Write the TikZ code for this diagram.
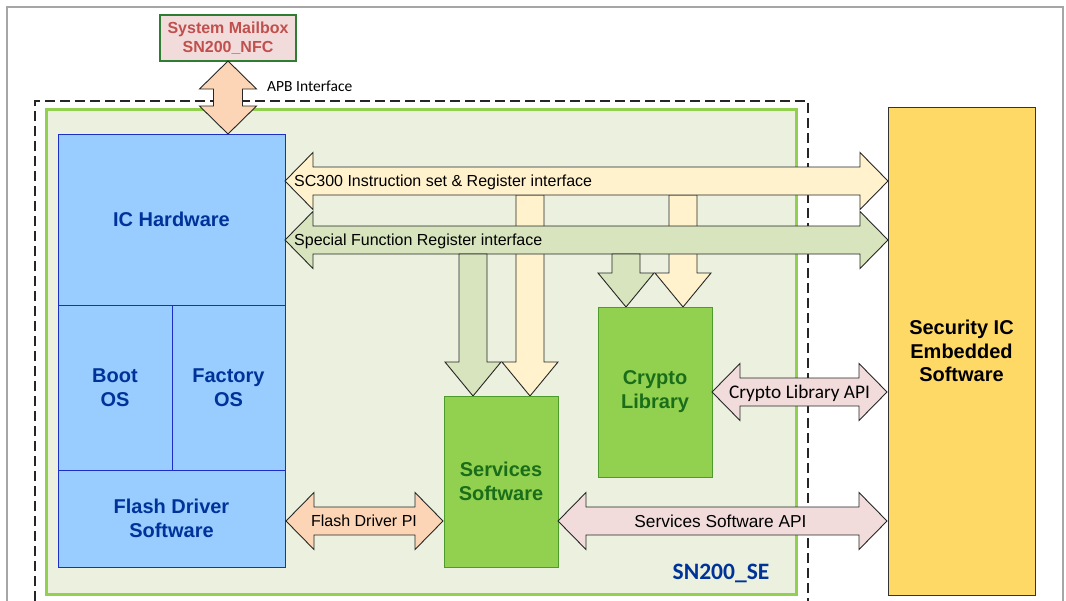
\documentclass[tikz,border=0pt]{standalone}
\usepackage{fontspec}
\setmainfont{Liberation Sans}
\newfontfamily\calibri{Carlito}
\definecolor{framegray}{HTML}{A6A6A6}
\definecolor{secgreen}{HTML}{92D050}
\definecolor{secbg}{HTML}{EBF1DE}
\definecolor{icblue}{HTML}{99CCFF}
\definecolor{icborder}{HTML}{1A2EC8}
\definecolor{ictext}{HTML}{003399}
\definecolor{mbfill}{HTML}{F2DCDB}
\definecolor{mbborder}{HTML}{2E7D32}
\definecolor{mbtext}{HTML}{C0504D}
\definecolor{peach}{HTML}{FBD5B5}
\definecolor{pink}{HTML}{F2DCDB}
\definecolor{ylw}{HTML}{FFF2CC}
\definecolor{olive}{HTML}{D7E4BD}
\definecolor{swgreen}{HTML}{92D050}
\definecolor{swborder}{HTML}{4E9A2A}
\definecolor{swtext}{HTML}{1A6E1A}
\definecolor{secic}{HTML}{FFD966}
\tikzset{
  barrow/.style={draw=black!85, line width=0.9pt, line join=miter},
  blk/.style={draw=icborder, fill=icblue, line width=1pt, inner sep=0pt,
    text=ictext, align=center, font=\bfseries\fontsize{20}{24}\selectfont},
  swbox/.style={draw=swborder, fill=swgreen, line width=1pt, inner sep=0pt,
    text=swtext, align=center, font=\bfseries\fontsize{20}{24}\selectfont},
  lbl/.style={inner sep=0pt, text=black},
}
% horizontal double block arrow: fill, xL, xR, yc
\newcommand{\hdarr}[4]{%
  \filldraw[barrow,fill=#1] (#2,#4) -- ({#2+28},{#4-28.5}) -- ({#2+28},{#4-14})
   -- ({#3-28},{#4-14}) -- ({#3-28},{#4-28.5}) -- (#3,#4) -- ({#3-28},{#4+28.5})
   -- ({#3-28},{#4+14}) -- ({#2+28},{#4+14}) -- ({#2+28},{#4+28.5}) -- cycle;}
% vertical down block arrow: fill, xc, ytop, ytip
\newcommand{\vdown}[4]{%
  \filldraw[barrow,fill=#1] ({#2-14},#3) -- ({#2+14},#3) -- ({#2+14},{#4-34})
   -- ({#2+28},{#4-34}) -- (#2,#4) -- ({#2-28},{#4-34}) -- ({#2-14},{#4-34}) -- cycle;}
\begin{document}
\begin{tikzpicture}[x=1pt,y=-1pt]
\useasboundingbox (0,0) rectangle (1066,600);
\fill[white] (0,0) rectangle (1066,600);
% outer frame
\draw[framegray, line width=1.5pt] (7,601) -- (7,7) -- (1063,7) -- (1063,601);
% dashed boundary
\draw[black!85, line width=1.8pt, dash pattern=on 10pt off 5pt] (35,601) -- (35,101) -- (808,101) -- (808,601);
% SN200_SE area
\node[draw=secgreen, line width=3pt, fill=secbg, minimum width=750pt, minimum height=485pt, inner sep=0pt] (se) at (421,351.5) {};
\node[lbl, anchor=base, text=ictext, font=\calibri\bfseries\fontsize{23.5}{28}\selectfont] (selbl) at (721,579.3) {SN200\_SE};
% mailbox
\node[draw=mbborder, fill=mbfill, line width=1.2pt, inner sep=0pt, minimum width=136pt, minimum height=46pt,
  text=mbtext, align=center, font=\bfseries\fontsize{16}{19}\selectfont] (mb) at (228,38) {System Mailbox\\SN200\_NFC};
% left blocks
\node[blk, minimum width=227pt, minimum height=171pt] (ich) at (171.5,219.5) {IC Hardware};
\node[blk, minimum width=114pt, minimum height=165pt] (boot) at (115,387.5) {Boot\\OS};
\node[blk, minimum width=113pt, minimum height=165pt] (fact) at (228.5,387.5) {Factory\\OS};
\node[blk, minimum width=227pt, minimum height=97pt] (flash) at (171.5,518.5) {Flash Driver\\Software};
% APB arrow
\filldraw[barrow, fill=peach] (228,61) -- (256.5,89) -- (242.5,89) -- (242.5,106) -- (256.5,106)
  -- (228,134) -- (199.5,106) -- (213.5,106) -- (213.5,89) -- (199.5,89) -- cycle;
\node[lbl, anchor=base west, font=\calibri\fontsize{15.5}{18}\selectfont] (apbl) at (267,91) {APB Interface};
% yellow vertical arrows (behind)
\vdown{ylw}{530}{195}{396}
\vdown{ylw}{683}{195}{307}
% big horizontal arrows
\hdarr{ylw}{285}{888}{181}
\hdarr{olive}{285}{888}{240}
\node[lbl, anchor=base west, font=\fontsize{16}{19}\selectfont] (scl) at (294,186.7) {SC300 Instruction set \& Register interface};
\node[lbl, anchor=base west, font=\fontsize{16}{19}\selectfont] (sfl) at (294,245) {Special Function Register interface};
% green vertical arrows
\vdown{olive}{473}{254}{396}
\vdown{olive}{626}{254}{307}
% software boxes
\node[swbox, minimum width=114pt, minimum height=171pt] (svc) at (501,481.5) {Services\\Software};
\node[swbox, minimum width=114pt, minimum height=170pt] (cry) at (655,392) {Crypto\\Library};
% security IC
\node[draw=black!80, fill=secic, line width=1pt, inner sep=0pt, minimum width=147pt, minimum height=488pt,
  align=center, font=\bfseries\fontsize{20}{23.5}\selectfont] (sec) at (961.5,351) {Security IC\\Embedded\\Software};
% API arrows
\hdarr{pink}{712}{887}{392}
\node[lbl, anchor=base, font=\calibri\fontsize{19.3}{22}\selectfont] (cryl) at (799.5,398.3) {Crypto Library API};
\hdarr{peach}{286}{443}{521}
\node[lbl, anchor=base, font=\fontsize{16}{19}\selectfont] (fdl) at (364,526.7) {Flash Driver PI};
\hdarr{pink}{558}{887}{521}
\node[lbl, anchor=base, font=\fontsize{17.3}{20}\selectfont] (ssl) at (720.5,527.5) {Services Software API};
\end{tikzpicture}
\end{document}
